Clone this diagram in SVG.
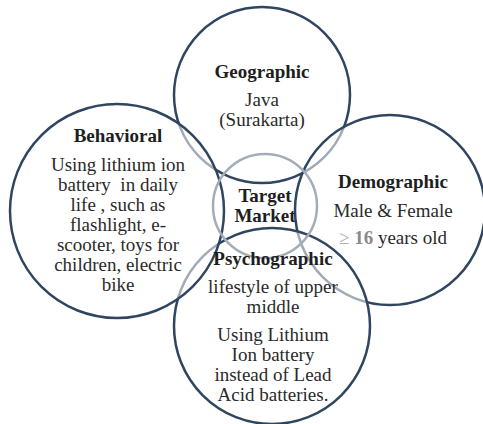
<svg xmlns="http://www.w3.org/2000/svg" width="483" height="424" viewBox="0 0 483 424">
  <style>
    .c { fill: #ffffff; fill-opacity: 0.55; stroke: #2f4560; stroke-width: 2.5; }
    .t { fill: none; stroke: #a3acb7; stroke-width: 2.5; }
    text { font-family: "Liberation Serif", "Times New Roman", serif; font-size: 19px; text-anchor: middle; fill: #2a2a2a; white-space: pre; }
    .h { font-weight: bold; fill: #1e1e1e; }
  </style>
  <rect width="483" height="424" fill="#ffffff"/>
  <g id="circles">
    <circle id="c-geo" class="c" cx="262" cy="95" r="88"/>
    <circle id="c-demo" class="c" cx="390" cy="210" r="95"/>
    <circle id="c-psy" class="c" cx="272" cy="326" r="98"/>
    <circle id="c-beh" class="c" cx="117" cy="211" r="107"/>
    <circle id="c-target" class="t" cx="265" cy="206" r="52"/>
  </g>
  <g id="geographic">
    <text class="h" x="262" y="78">Geographic</text>
    <text x="262" y="106">Java</text>
    <text x="262" y="126">(Surakarta)</text>
  </g>
  <g id="behavioral">
    <text class="h" x="118" y="142">Behavioral</text>
    <text x="118" y="171">Using lithium ion</text>
    <text x="118" y="191">battery  in daily</text>
    <text x="118" y="211">life , such as</text>
    <text x="118" y="231">flashlight, e-</text>
    <text x="118" y="251">scooter, toys for</text>
    <text x="118" y="271">children, electric</text>
    <text x="118" y="291">bike</text>
  </g>
  <g id="target">
    <text class="h" x="265" y="202">Target</text>
    <text class="h" x="265" y="222">Market</text>
  </g>
  <g id="demographic">
    <text class="h" x="393" y="188">Demographic</text>
    <text x="393" y="217">Male &amp; Female</text>
    <text x="393" y="244"><tspan fill="#b0b0b0">≥ </tspan><tspan fill="#8a8a8a" font-weight="bold">16</tspan> years old</text>
  </g>
  <g id="psychographic">
    <text class="h" x="273" y="265">Psychographic</text>
    <text x="273" y="293">lifestyle of upper</text>
    <text x="273" y="313">middle</text>
    <text x="273" y="341">Using Lithium</text>
    <text x="273" y="361">Ion battery</text>
    <text x="273" y="381">instead of Lead</text>
    <text x="273" y="401">Acid batteries.</text>
  </g>
</svg>
